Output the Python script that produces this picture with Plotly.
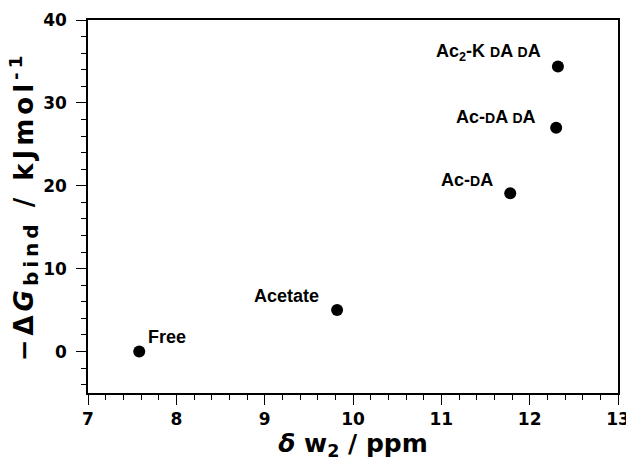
import plotly.graph_objects as go

labels = ["Free", "Acetate", "Ac-DA", "Ac-DADA", "Ac2-KDADA"]
shift_ppm = [7.58, 9.82, 11.78, 12.30, 12.32]
dG_bind = [0.0, 5.0, 19.1, 27.0, 34.4]
x_ticks = [7, 8, 9, 10, 11, 12, 13]
x_ticktext = ["<b>%d</b>" % v for v in x_ticks]
y_ticks = [0, 10, 20, 30, 40]

FAM = "Liberation Sans, Arial, sans-serif"
TFAM = "DejaVu Sans, Liberation Sans, sans-serif"
sc = "<span style='font-size:14px'>D</span>"
label_html = [
    "Free",
    "Acetate",
    "Ac-" + sc + "A",
    "Ac-" + sc + "A " + sc + "A",
    "Ac<sub>2</sub>-K " + sc + "A " + sc + "A",
]
# (xanchor, xshift, yshift)
label_pos = [
    ("left", 7, 15),
    ("right", -16, 14),
    ("right", -15, 13),
    ("right", -18, 11),
    ("right", -15, 14),
]

fig = go.Figure()
fig.add_trace(go.Scatter(
    x=shift_ppm, y=dG_bind, mode="markers",
    marker=dict(color="black", size=12, line=dict(width=0)),
    showlegend=False, hoverinfo="skip"))

for xv, yv, txt, (xa, xs, ys) in zip(shift_ppm, dG_bind, label_html, label_pos):
    fig.add_annotation(x=xv, y=yv, xref="x", yref="y", text=txt, showarrow=False,
                       xanchor=xa, yanchor="middle", xshift=xs, yshift=ys,
                       font=dict(family=FAM, size=18, color="black", weight="bold"))

tick_font = dict(family=TFAM, size=17, color="black", weight=700)
fig.update_xaxes(
    range=[7, 13], tickmode="array", tickvals=x_ticks, ticktext=x_ticktext,
    showgrid=False, zeroline=False, automargin=False, ticklabeloverflow="allow",
    showline=True, linecolor="black", linewidth=1.5, mirror=True,
    ticks="outside", ticklen=10, tickwidth=1.3, tickcolor="black",
    minor=dict(tickmode="linear", tick0=7, dtick=0.2, ticks="outside", ticklen=5, tickwidth=1, tickcolor="black"),
    tickfont=tick_font,
    title=dict(text="<i>δ</i> w<sub>2</sub> / ppm", standoff=4,
               font=dict(family=TFAM, size=25, color="black", weight="bold")),
)
fig.update_yaxes(
    range=[-5, 40], tickmode="array", tickvals=y_ticks,
    showgrid=False, zeroline=False, automargin=False, ticklabeloverflow="allow",
    showline=True, linecolor="black", linewidth=1.5, mirror=True,
    ticks="outside", ticklen=10, tickwidth=1.3, tickcolor="black", ticklabelstandoff=6,
    minor=dict(tickmode="linear", tick0=0, dtick=2, ticks="outside", ticklen=5, tickwidth=1, tickcolor="black"),
    tickfont=tick_font,
    title=dict(text="<span style='letter-spacing:4px'>−Δ<i>G</i><sub><span style='font-size:20px'>bind</span></sub> / kJmol<sup>-1</sup></span>",
               standoff=2,
               font=dict(family=TFAM, size=26, color="black", weight="bold")),
)
fig.update_layout(
    width=626, height=461,
    margin=dict(l=88, r=8, t=20, b=68),
    plot_bgcolor="white", paper_bgcolor="white",
)
fig.write_html("out.html")
